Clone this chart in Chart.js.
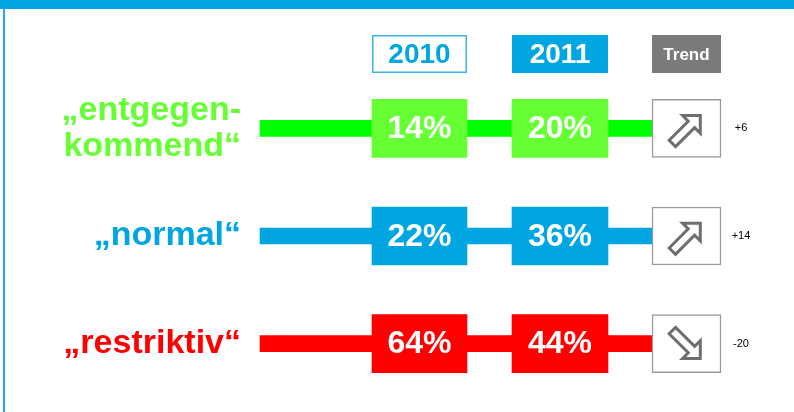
<!DOCTYPE html>
<html>
<head>
<meta charset="utf-8">
<script src="https://cdn.jsdelivr.net/npm/chart.js@4"></script>
<style>
  html, body { margin: 0; padding: 0; background: #fff; }
  canvas { display: block; }
</style>
</head>
<body>
<canvas id="chart" width="794" height="412"></canvas>
<script>
const CATEGORIES = [["„entgegen-", "kommend“"], "„normal“", "„restriktiv“"];
const YEARS = ["2010", "2011"];
const VALUES_2010 = [14, 22, 64];
const VALUES_2011 = [20, 36, 44];
const TREND_LABEL = "Trend";

const BLUE = "#00a6e2";
const LINE_COLORS = ["#00ff00", BLUE, "#ff0000"];
const BOX_COLORS = ["#66ff33", BLUE, "#ff0000"];
const LABEL_COLORS = ["#66ff33", BLUE, "#ff0000"];
const FONT = "'Liberation Sans', Arial, sans-serif";

// column layout on the x scale (pixels of the 794px page)
const COL_2010 = [372, 467];
const COL_2011 = [512, 608];
const COL_TREND = [652, 721];
const LINE_SPAN = [260, 652];

const change = VALUES_2011.map((v, i) => v - VALUES_2010[i]);

const span = (c) => CATEGORIES.map(() => c);

const frame = {
  id: "frame",
  beforeDraw(chart) {
    const { ctx, width, height } = chart;
    ctx.save();
    ctx.fillStyle = BLUE;
    ctx.fillRect(0, 0, width, 9);
    ctx.fillStyle = "#22aae6";
    ctx.fillRect(3, 9, 2, height - 9);
    ctx.restore();
  },
};

function headerBox(ctx, x, col, fill, stroke, text, color, size) {
  const x0 = x.getPixelForValue(col[0]);
  const x1 = x.getPixelForValue(col[1]);
  const y0 = 35, y1 = 73;
  if (fill) {
    ctx.fillStyle = fill;
    ctx.fillRect(x0, y0, x1 - x0, y1 - y0);
  }
  if (stroke) {
    ctx.strokeStyle = stroke;
    ctx.lineWidth = 1.5;
    ctx.strokeRect(x0 + 0.75, y0 + 0.75, x1 - x0 - 1.5, y1 - y0 - 1.5);
  }
  ctx.fillStyle = color;
  ctx.font = `bold ${size}px ${FONT}`;
  ctx.textAlign = "center";
  ctx.textBaseline = "middle";
  ctx.fillText(text, (x0 + x1) / 2, (y0 + y1) / 2 + 1);
}

function drawArrow(ctx, cx, cy, up) {
  ctx.save();
  ctx.translate(cx, cy);
  ctx.rotate(up ? -Math.PI / 4 : Math.PI / 4);
  ctx.beginPath();
  ctx.moveTo(-20, -4.5);
  ctx.lineTo(7, -4.5);
  ctx.lineTo(7, -12.5);
  ctx.lineTo(19.5, 0);
  ctx.lineTo(7, 12.5);
  ctx.lineTo(7, 4.5);
  ctx.lineTo(-20, 4.5);
  ctx.closePath();
  ctx.strokeStyle = "#6e6e6e";
  ctx.lineWidth = 3;
  ctx.lineJoin = "miter";
  ctx.stroke();
  ctx.restore();
}

const labels = {
  id: "labels",
  afterDatasetsDraw(chart) {
    const { ctx } = chart;
    const x = chart.scales.x;
    ctx.save();

    headerBox(ctx, x, COL_2010, "#fff", "#3cb2e6", YEARS[0], BLUE, 28);
    headerBox(ctx, x, COL_2011, BLUE, null, YEARS[1], "#fff", 28);
    headerBox(ctx, x, COL_TREND, "#7a7a7a", null, TREND_LABEL, "#fff", 17);

    [[0, VALUES_2010], [1, VALUES_2011]].forEach(([di, vals]) => {
      chart.getDatasetMeta(di).data.forEach((bar, i) => {
        ctx.fillStyle = "#fff";
        ctx.font = `bold 32px ${FONT}`;
        ctx.textAlign = "center";
        ctx.textBaseline = "middle";
        ctx.fillText(vals[i] + "%", (bar.x + bar.base) / 2, bar.y + 1);
      });
    });

    chart.getDatasetMeta(2).data.forEach((bar, i) => {
      const cx = (bar.x + bar.base) / 2;
      drawArrow(ctx, cx, bar.y + 1, change[i] >= 0);
      ctx.fillStyle = "#000";
      ctx.font = `11px ${FONT}`;
      ctx.textAlign = "center";
      ctx.textBaseline = "middle";
      const txt = (change[i] > 0 ? "+" : "") + change[i];
      ctx.fillText(txt, bar.x + 20, bar.y);
    });

    ctx.restore();
  },
};

new Chart(document.getElementById("chart"), {
  type: "bar",
  data: {
    labels: CATEGORIES,
    datasets: [
      {
        label: YEARS[0],
        data: span(COL_2010),
        backgroundColor: BOX_COLORS,
        barThickness: 58,
        grouped: false,
        order: 0,
      },
      {
        label: YEARS[1],
        data: span(COL_2011),
        backgroundColor: BOX_COLORS,
        barThickness: 58,
        grouped: false,
        order: 0,
      },
      {
        label: TREND_LABEL,
        data: span(COL_TREND),
        backgroundColor: "#fff",
        borderColor: "#9a9a9a",
        borderWidth: 1.5,
        borderSkipped: false,
        barThickness: 58,
        grouped: false,
        order: 0,
      },
      {
        label: "line",
        data: span(LINE_SPAN),
        backgroundColor: LINE_COLORS,
        barThickness: 16,
        grouped: false,
        order: 1,
      },
    ],
  },
  options: {
    indexAxis: "y",
    responsive: false,
    animation: false,
    layout: { padding: { top: 74.5, bottom: 14.5, left: 0, right: 0 } },
    plugins: {
      legend: { display: false },
      tooltip: { enabled: false },
    },
    scales: {
      x: { type: "linear", min: 250, max: 794, display: false },
      y: {
        type: "category",
        grid: { display: false },
        border: { display: false },
        afterFit(scale) {
          scale.width = 250;
          scale.paddingTop = 0;
          scale.paddingBottom = 0;
        },
        ticks: {
          padding: 1,
          color: (c) => LABEL_COLORS[c.index],
          font: { family: FONT, size: 34, weight: "bold", lineHeight: 1.06 },
        },
      },
    },
  },
  plugins: [frame, labels],
});
</script>
</body>
</html>
